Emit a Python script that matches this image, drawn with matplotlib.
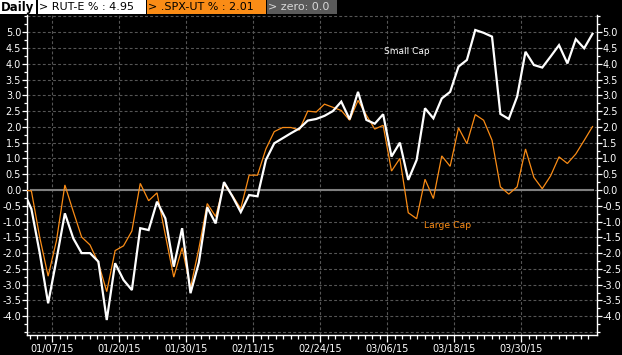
import matplotlib
matplotlib.use('Agg')
import matplotlib.pyplot as plt
from matplotlib.patches import Rectangle
from matplotlib.ticker import MultipleLocator, FixedLocator, NullFormatter, FormatStrFormatter

plt.rcParams['font.family'] = ['DejaVu Sans']
plt.rcParams['axes.unicode_minus'] = False

# ---- data (cumulative % change, one value per trading day, 12/31/14 .. 04/10/15)
small_cap = [0.0, -0.6, -2.0, -3.59, -2.2, -0.74, -1.53, -2.0, -2.0, -2.27,
             -4.12, -2.32, -2.85, -3.17, -1.21, -1.27, -0.37, -0.90, -2.43, -1.21,
             -3.27, -2.3, -0.55, -1.06, 0.25, -0.2, -0.7, -0.16, -0.2, 0.95,
             1.48, 1.64, 1.8, 1.95, 2.2, 2.25, 2.35, 2.5, 2.8, 2.24,
             3.11, 2.22, 2.1, 2.4, 1.06, 1.5, 0.32, 0.95, 2.59, 2.27,
             2.9, 3.11, 3.91, 4.12, 5.07, 4.98, 4.86, 2.41, 2.25, 2.96,
             4.38, 3.96, 3.88, 4.23, 4.59, 4.01, 4.78, 4.49, 4.95]
large_cap = [0.0, -0.03, -1.5, -2.73, -1.60, 0.16, -0.68, -1.49, -1.74, -2.31,
             -3.22, -1.92, -1.77, -1.30, 0.21, -0.34, -0.09, -1.43, -2.76, -1.83,
             -3.10, -1.85, -0.43, -0.84, 0.18, -0.17, -0.59, 0.47, 0.47, 1.3,
             1.85, 1.98, 1.98, 1.9, 2.50, 2.47, 2.72, 2.62, 2.52, 2.21,
             2.84, 2.37, 1.93, 2.05, 0.60, 1.00, -0.72, -0.91, 0.34, -0.27,
             1.08, 0.75, 1.97, 1.47, 2.39, 2.21, 1.58, 0.10, -0.13, 0.10,
             1.30, 0.40, 0.04, 0.45, 1.05, 0.84, 1.14, 1.57, 2.01]
zero_value = 0.0

tick_labels = ['01/07/15', '01/20/15', '01/30/15', '02/11/15',
               '02/24/15', '03/06/15', '03/18/15', '03/30/15']
tick_index = [4, 12, 20, 28, 36, 44, 52, 60]
y_tick_values = [-4.0, -3.5, -3.0, -2.5, -2.0, -1.5, -1.0, -0.5, 0.0,
                 0.5, 1.0, 1.5, 2.0, 2.5, 3.0, 3.5, 4.0, 4.5, 5.0]
y_grid_values = [-4.5] + y_tick_values + [5.5]

header_labels = ['> RUT-E % : 4.95', '> .SPX-UT % : 2.01', '> zero: 0.0']
series_names = ['Small Cap', 'Large Cap']

# ---- style
W, H = 622, 355
BG = '#000000'
ORANGE = '#fa8c16'
GRID = '#555555'

fig = plt.figure(figsize=(W / 100, H / 100), dpi=100, facecolor=BG)

ax_l, ax_r, ax_t, ax_b = 26.6, 596.7, 15.0, 334.7
ax = fig.add_axes([ax_l / W, 1 - ax_b / H, (ax_r - ax_l) / W, (ax_b - ax_t) / H])
ax.set_facecolor(BG)

n = len(small_cap)
x = list(range(n))

ax.set_xlim(0.43, 68.5)
ax.set_ylim(-4.585, 5.545)

# grid
grid_pos = [t - 0.5 for t in tick_index]
dash = (0, (2.6, 2.0))
for gx in grid_pos:
    ax.axvline(gx, color=GRID, lw=0.8, ls=dash, zorder=1)
for gy in y_grid_values:
    ax.axhline(gy, color=GRID, lw=0.8, ls=dash, zorder=1)

# zero line
ax.plot(x[1:], [zero_value] * (n - 1), color='#7f7f7f', lw=1.5, zorder=2)

# series
ax.plot(x, large_cap, color=ORANGE, lw=0.9, zorder=3, solid_joinstyle='miter')
ax.plot(x, small_cap, color='white', lw=1.6, zorder=4, solid_joinstyle='miter')

# series labels
ax.text(43.1, 4.4, series_names[0], color='white', fontsize=6.5, va='center', ha='left')
ax.text(47.9, -1.11, series_names[1], color=ORANGE, fontsize=6.7, va='center', ha='left')

# x axis ticks
ax.xaxis.set_major_locator(FixedLocator(grid_pos))
ax.set_xticklabels(tick_labels)
minor_x = [grid_pos[0] + k * 8 / 9 for k in range(-4, 75)
           if 0.43 <= grid_pos[0] + k * 8 / 9 <= 68.3]
ax.xaxis.set_minor_locator(FixedLocator(minor_x))
ax.xaxis.set_minor_formatter(NullFormatter())

# y axis ticks
ax.yaxis.set_major_locator(FixedLocator(y_tick_values))
ax.yaxis.set_major_formatter(FormatStrFormatter('%.1f'))
ax.yaxis.set_minor_locator(MultipleLocator(0.25))

ax.tick_params(axis='x', which='major', colors='white', length=5, width=0.9,
               labelsize=7, pad=2, direction='out')
ax.tick_params(axis='x', which='minor', colors='white', length=3, width=0.9, direction='out')
ax.tick_params(axis='y', which='major', colors='white', length=3.6, width=0.9,
               labelsize=7, pad=0.3, direction='out', left=True, right=True,
               labelleft=True, labelright=True)
ax.tick_params(axis='y', which='minor', colors='white', length=2.2, width=0.9,
               direction='out', left=True, right=True)

for s in ['left', 'right', 'bottom']:
    ax.spines[s].set_color('white')
    ax.spines[s].set_linewidth(1.0)
ax.spines['top'].set_visible(False)

# ---- header bar
bar_h = 14
def box(x0, x1, color):
    fig.patches.append(Rectangle((x0 / W, 1 - bar_h / H), (x1 - x0) / W, bar_h / H,
                                 transform=fig.transFigure, facecolor=color,
                                 edgecolor='none', zorder=5))

box(0, 36, 'white')
box(37.7, 146, 'white')
box(147, 265.7, ORANGE)
box(266.7, 337, '#5a5a5a')
ty = 1 - (bar_h / 2) / H
fig.text(1 / W, ty, 'Daily', color='black', fontsize=8.5, fontweight='bold', va='center', ha='left', zorder=6)
fig.text(39 / W, ty, header_labels[0], color='black', fontsize=8, va='center', ha='left', zorder=6)
fig.text(148.5 / W, ty, header_labels[1], color='black', fontsize=8, va='center', ha='left', zorder=6)
fig.text(268 / W, ty, header_labels[2], color='#d8d8d8', fontsize=8, va='center', ha='left', zorder=6)

fig.savefig('out.png', dpi=100, facecolor=BG)
